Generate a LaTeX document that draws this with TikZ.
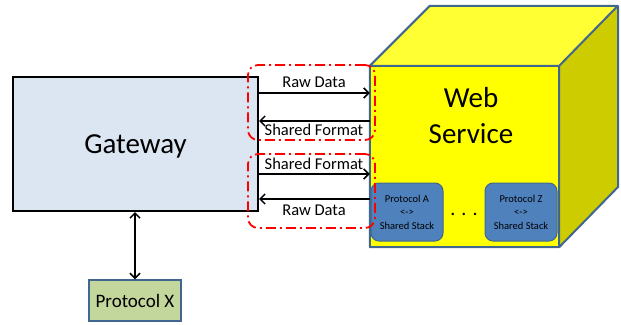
\documentclass[tikz,border=0pt]{standalone}
\usepackage{fontspec}
\setmainfont{Carlito}
\usetikzlibrary{positioning,arrows.meta}

\definecolor{gwblue}{HTML}{DCE6F2}
\definecolor{pxgreen}{HTML}{C3D69B}
\definecolor{edgeblue}{HTML}{41668F}
\definecolor{stackblue}{HTML}{4F81BD}
\definecolor{cubefront}{HTML}{FFFF00}
\definecolor{cubetop}{HTML}{FFFF33}
\definecolor{cubeside}{HTML}{CCCC00}

\begin{document}
\begin{tikzpicture}[x=1pt,y=-1pt,
	gwbox/.style={draw=black,line width=2pt,fill=gwblue,minimum width=245pt,minimum height=134pt,
		font=\fontsize{29}{35}\selectfont,text depth=0pt},
	pxbox/.style={draw=edgeblue,line width=1.5pt,fill=pxgreen,minimum width=92pt,minimum height=41pt,
		font=\fontsize{19}{23}\selectfont},
	stackbox/.style={draw=edgeblue,line width=1pt,fill=stackblue,rounded corners=8pt,
		minimum width=72pt,minimum height=58pt,align=center,font=\fontsize{10.5}{13.5}\selectfont},
	msg/.style={font=\fontsize{16.5}{20}\selectfont},
	flow/.style={line width=1.5pt,-{Straight Barb[length=5pt,width=10pt]}},
	group/.style={draw=red,line width=1.8pt,rounded corners=10pt,minimum width=127pt,
		dash pattern=on 10pt off 4pt on 2pt off 4pt}]
\useasboundingbox (0,0) rectangle (621,324);

% gateway and the protocol below it
\node[gwbox] (gw) at (135.5,144) {Gateway};
\node[pxbox] (px) at (135,300.5) {Protocol X};
\draw[line width=1.5pt,{Straight Barb[length=5pt,width=10pt]}-{Straight Barb[length=5pt,width=10pt]}]
	(gw.south -| px.north) -- (px.north);

% web service cube
\node[fill=cubefront,minimum width=189pt,minimum height=181pt,inner sep=0pt] (web) at (464.5,156.5) {};
\fill[cubetop] (web.north west) -- ++(60,-60) -- ++(188,0) -- (web.north east) -- cycle;
\fill[cubeside] (web.north east) -- ++(59,-60) -- ++(0,181) -- (web.south east) -- cycle;
\draw[edgeblue,line width=2pt,line join=round]
	(web.south west) rectangle (web.north east)
	(web.north west) -- ++(60,-60) -- ++(188,0) -- (web.north east)
	(web.north east) ++(59,-60) -- ++(0,181) -- (web.south east);
\node[align=center,font=\fontsize{29}{36}\selectfont] (webtxt) at (471,116) {Web\\Service};

\node[stackbox] (stA) at (407,212) {Protocol A\\<->\\Shared Stack};
\node[stackbox] (stZ) at (521,212) {Protocol Z\\<->\\Shared Stack};
\node[font=\fontsize{20}{24}\selectfont,anchor=base] (dots) at (464,215) {. . .};

% messages between gateway and service
\coordinate (r1) at (0,93);
\coordinate (r2) at (0,121);
\coordinate (r3) at (0,174);
\coordinate (r4) at (0,199);
\draw[flow] (gw.east |- r1) -- (web.west |- r1);
\draw[flow] (web.west |- r2) -- (gw.east |- r2);
\draw[flow] (gw.east |- r3) -- (web.west |- r3);
\draw[flow] (web.west |- r4) -- (gw.east |- r4);
\node[msg] (m1) at (314,82) {Raw Data};
\node[msg] (m2) at (314,130) {Shared Format};
\node[msg] (m3) at (314,164) {Shared Format};
\node[msg] (m4) at (314,210) {Raw Data};

% dash-dot groups
\node[group,minimum height=75pt] (g1) at (311.5,102.5) {};
\node[group,minimum height=74pt] (g2) at (311.5,191) {};
\end{tikzpicture}
\end{document}
